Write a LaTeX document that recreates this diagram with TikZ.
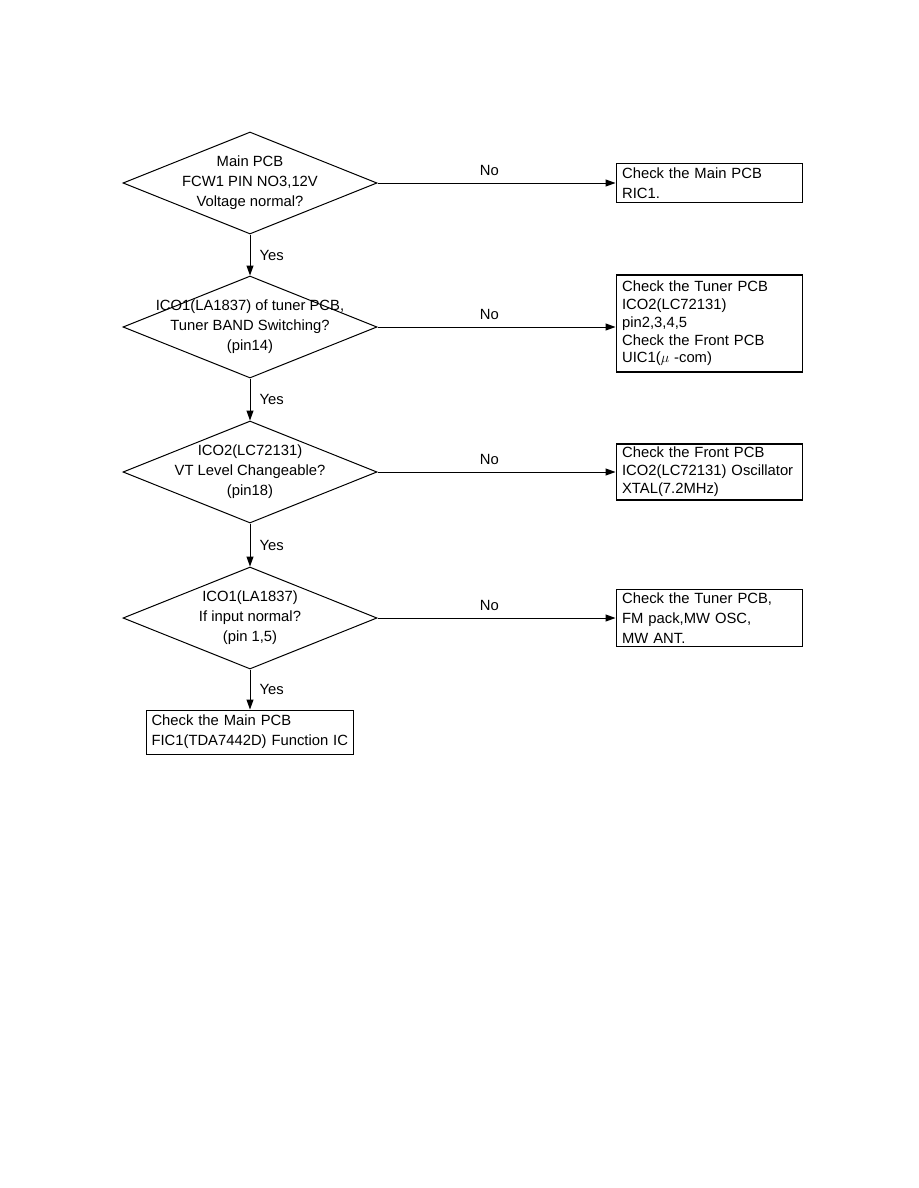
\documentclass[tikz,border=0pt]{standalone}
\usepackage{fontspec}
\setmainfont{Liberation Sans}
\usetikzlibrary{positioning, arrows.meta, shapes.geometric}
\tikzset{
  fdia/.style={draw, line width=1pt, diamond, minimum width=254pt, minimum height=102pt, inner sep=0pt},
  ftxt/.style={align=center, inner sep=0pt},
  fbox/.style={draw, line width=1.2pt, align=left, text width=174pt, inner xsep=6pt, inner ysep=0pt},
  fend/.style={fbox, text width=197pt, inner xsep=5pt},
  farr/.style={-{Triangle[length=10pt, width=7pt]}, line width=1pt},
  flbl/.style={inner sep=0pt},
}
\begin{document}
\begin{tikzpicture}[x=1pt, y=1pt, font=\fontsize{14.8}{20}\selectfont]
  \useasboundingbox (0,0) rectangle (918,-1188);
  % decisions
  \node[fdia] (d1) at (250,-183) {};
  \node[fdia, below=41pt of d1] (d2) {};
  \node[fdia, below=42pt of d2] (d3) {};
  \node[fdia, below=43pt of d3] (d4) {};
  \node[ftxt] (t1) at (d1) {Main PCB\\FCW1 PIN NO3,12V\\Voltage normal?};
  \node[ftxt] (t2) at (d2) {ICO1(LA1837) of tuner PCB,\\Tuner BAND Switching?\\(pin14)};
  \node[ftxt] (t3) at (d3) {ICO2(LC72131)\\VT Level Changeable?\\(pin18)};
  \node[ftxt] (t4) at (d4) {ICO1(LA1837)\\If input normal?\\(pin 1,5)};
  % checks
  \node[fbox, minimum height=39pt, right=238pt of d1] (r1) {Check the Main PCB\\RIC1.};
  \node[fbox, minimum height=97pt, right=238pt of d2, yshift=3.5pt,
        font=\fontsize{14.8}{17.8}\selectfont] (r2) {Check the Tuner PCB\\ICO2(LC72131)\\pin2,3,4,5\\Check the Front PCB\\UIC1($\mu$\ -com)};
  \node[fbox, minimum height=56pt, right=238pt of d3,
        font=\fontsize{14.8}{18}\selectfont] (r3) {Check the Front PCB\\ICO2(LC72131) Oscillator\\XTAL(7.2MHz)};
  \node[fbox, minimum height=57pt, right=238pt of d4] (r4) {Check the Tuner PCB,\\FM pack,MW OSC,\\MW ANT.};
  \node[fend, minimum height=44pt, below=40pt of d4] (e) {Check the Main PCB\\FIC1(TDA7442D) Function IC};
  % yes
  \draw[farr] (d1) -- node[flbl, right=9pt] {Yes} (d2);
  \draw[farr] (d2) -- node[flbl, right=9pt] {Yes} (d3);
  \draw[farr] (d3) -- node[flbl, right=9pt] {Yes} (d4);
  \draw[farr] (d4) -- node[flbl, right=9pt] {Yes} (e);
  % no
  \draw[farr] (d1.east) -- node[flbl, above=7pt, pos=0.47] {No} (d1.east -| r1.west);
  \draw[farr] (d2.east) -- node[flbl, above=7pt, pos=0.47] {No} (d2.east -| r2.west);
  \draw[farr] (d3.east) -- node[flbl, above=7pt, pos=0.47] {No} (d3.east -| r3.west);
  \draw[farr] (d4.east) -- node[flbl, above=7pt, pos=0.47] {No} (d4.east -| r4.west);
\end{tikzpicture}
\end{document}
